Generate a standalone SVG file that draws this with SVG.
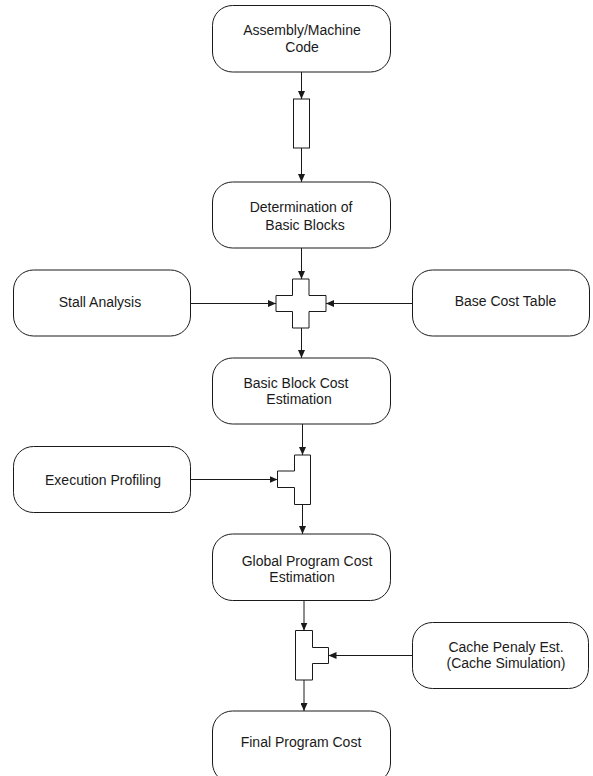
<svg xmlns="http://www.w3.org/2000/svg" width="593" height="776" viewBox="0 0 593 776">
<style>
.box{fill:#fff;stroke:#1a1a1a;stroke-width:1}
.junc{fill:#fff;stroke:#1a1a1a;stroke-width:1}
.lbl{font-family:"Liberation Sans",Arial,sans-serif;font-size:14px;fill:#1a1a1a;text-anchor:middle}
.con{fill:none;stroke:#1a1a1a;stroke-width:1}
</style>
<defs>
<marker id="ah" markerWidth="8" markerHeight="7" refX="8" refY="3.5" orient="auto" markerUnits="userSpaceOnUse">
<path d="M0,0 L8,3.5 L0,7 Z" fill="#1a1a1a"/>
</marker>
</defs>
<rect width="593" height="776" fill="#fff"/>
<g id="connectors">
<line class="con" x1="301.5" y1="72" x2="301.5" y2="99" marker-end="url(#ah)"/>
<line class="con" x1="301.5" y1="148" x2="301.5" y2="182" marker-end="url(#ah)"/>
<line class="con" x1="301.5" y1="248" x2="301.5" y2="279" marker-end="url(#ah)"/>
<line class="con" x1="190.5" y1="303.5" x2="276" y2="303.5" marker-end="url(#ah)"/>
<line class="con" x1="412.5" y1="303.5" x2="326" y2="303.5" marker-end="url(#ah)"/>
<line class="con" x1="301.5" y1="328" x2="301.5" y2="358" marker-end="url(#ah)"/>
<line class="con" x1="302.5" y1="424" x2="302.5" y2="455" marker-end="url(#ah)"/>
<line class="con" x1="190.5" y1="479.5" x2="277.5" y2="479.5" marker-end="url(#ah)"/>
<line class="con" x1="302.5" y1="504.5" x2="302.5" y2="534" marker-end="url(#ah)"/>
<line class="con" x1="304" y1="600.5" x2="304" y2="630.5" marker-end="url(#ah)"/>
<line class="con" x1="412.5" y1="655.5" x2="328.5" y2="655.5" marker-end="url(#ah)"/>
<line class="con" x1="304" y1="680" x2="304" y2="711" marker-end="url(#ah)"/>
</g>
<g id="assembly">
<rect class="box" x="212.5" y="5.5" width="178" height="66.5" rx="20"/>
<text class="lbl" x="302" y="35">Assembly/Machine</text>
<text class="lbl" x="302" y="52">Code</text>
</g>
<g id="buffer">
<rect class="junc" x="293.5" y="99" width="16" height="49"/>
</g>
<g id="determination">
<rect class="box" x="212.5" y="182" width="178" height="66" rx="20"/>
<text class="lbl" x="301" y="212">Determination of</text>
<text class="lbl" x="305" y="230">Basic Blocks</text>
</g>
<g id="join1">
<path class="junc" d="M292.5,279 H309 V295.5 H326 V311.5 H309 V328 H292.5 V311.5 H276 V295.5 H292.5 Z"/>
</g>
<g id="stall">
<rect class="box" x="13.5" y="270" width="177" height="66" rx="20"/>
<text class="lbl" x="100" y="307">Stall Analysis</text>
</g>
<g id="basecost">
<rect class="box" x="412.5" y="270" width="177" height="66" rx="20"/>
<text class="lbl" x="505.5" y="306">Base Cost Table</text>
</g>
<g id="bbcost">
<rect class="box" x="212.5" y="358" width="178" height="66" rx="20"/>
<text class="lbl" x="296" y="388">Basic Block Cost</text>
<text class="lbl" x="299" y="404">Estimation</text>
</g>
<g id="join2">
<path class="junc" d="M294.5,455 H310.5 V504.5 H294.5 V487.5 H277.5 V471 H294.5 Z"/>
</g>
<g id="profiling">
<rect class="box" x="13.5" y="446.5" width="177" height="66" rx="20"/>
<text class="lbl" x="103" y="485">Execution Profiling</text>
</g>
<g id="global">
<rect class="box" x="212.5" y="534" width="178" height="66.5" rx="20"/>
<text class="lbl" x="307" y="566">Global Program Cost</text>
<text class="lbl" x="302" y="582">Estimation</text>
</g>
<g id="join3">
<path class="junc" d="M295.5,630.5 H312.5 V647.5 H328.5 V663.5 H312.5 V680 H295.5 Z"/>
</g>
<g id="cache">
<rect class="box" x="412.5" y="622.5" width="176" height="66" rx="20"/>
<text class="lbl" x="506" y="652">Cache Penaly Est.</text>
<text class="lbl" x="506" y="668">(Cache Simulation)</text>
</g>
<g id="final">
<rect class="box" x="212.5" y="711" width="178" height="72" rx="20"/>
<text class="lbl" x="301" y="747">Final Program Cost</text>
</g>
</svg>
